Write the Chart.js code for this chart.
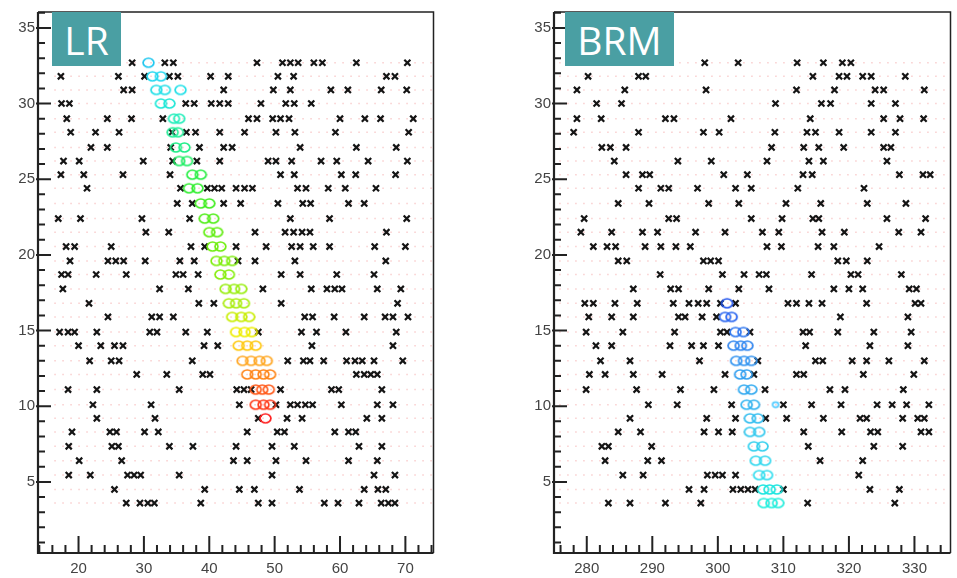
<!DOCTYPE html>
<html>
<head>
<meta charset="utf-8">
<script src="https://cdn.jsdelivr.net/npm/chart.js@4.4.1/dist/chart.umd.min.js"></script>
<style>
  html, body { margin: 0; padding: 0; background: #fff; }
  #wrap { position: relative; width: 957px; height: 578px; overflow: hidden; }
  canvas { position: absolute; top: 0; }
  #lr { left: 0; }
  #brm { left: 478px; }
  .tag {
    position: absolute; top: 12px; height: 54px;
    background: #4a9fa3; color: #fff;
    font-family: "Open Sans", sans-serif; font-size: 39px;
    display: flex; align-items: center; justify-content: center;
  }
</style>
</head>
<body>
<div id="wrap">
  <canvas id="lr" width="440" height="578"></canvas>
  <canvas id="brm" width="479" height="578"></canvas>
  <div class="tag" style="left:52px;width:69px">LR</div>
  <div class="tag" style="left:565px;width:109px">BRM</div>
</div>
<script>
// wire rows (y), bottom to top
var rowY = [3.6, 4.5, 5.45, 6.4, 7.35, 8.3, 9.2, 10.1, 11.1, 12.1, 13.0, 14.0, 14.9, 15.9, 16.8, 17.75,
  18.7, 19.6, 20.55, 21.5, 22.4, 23.4, 24.4, 25.3, 26.2, 27.1, 28.1, 29.0, 30.0, 30.9, 31.8, 32.7]

// LR panel: crosses per row
var lrCrossX = [
  [27.3, 29.4, 30.6, 31.6, 38.7, 47.5, 49.6, 57.6, 59.7, 62.9, 66.3, 67.4, 68.4],
  [25.5, 39.3, 44.6, 46.9, 53.8, 63.7, 65.8, 67.0],
  [18.5, 21.8, 27.5, 28.5, 29.5, 35.4, 49.6, 65.2, 68.4],
  [20.1, 26.6, 43.7, 45.8, 50.2, 54.8, 61.3, 65.7],
  [18.5, 25.1, 26.1, 33.9, 37.5, 44.1, 49.6, 53.0, 62.9, 66.4],
  [19.0, 24.8, 25.8, 30.1, 32.2, 45.8, 50.4, 51.5, 59.2, 61.3, 62.4],
  [22.8, 31.7, 47.5, 51.9, 54.2, 64.1, 66.4],
  [22.2, 31.1, 44.6, 50.2, 52.4, 53.5, 54.7, 55.8, 60.2, 65.7, 68.1],
  [18.4, 22.8, 35.4, 44.2, 45.3, 46.4, 50.9, 58.7, 59.8, 66.4],
  [28.9, 33.5, 39.0, 40.1, 62.5, 63.7, 64.7, 65.7],
  [21.7, 25.0, 26.2, 37.4, 52.0, 54.4, 55.4, 57.5, 61.0, 62.3, 63.4, 65.2, 69.6],
  [20.0, 23.4, 25.5, 26.8, 39.2, 41.3, 55.7, 68.1],
  [17.1, 18.4, 19.4, 22.8, 30.9, 32.0, 36.4, 39.7, 47.5, 54.1, 56.4, 60.9, 68.6],
  [24.5, 31.2, 32.4, 34.5, 54.6, 55.8, 59.1, 63.7, 66.9, 68.1, 70.4],
  [21.6, 38.4, 40.7, 51.0, 68.8],
  [17.6, 32.4, 36.8, 48.2, 55.6, 58.0, 59.2, 60.3, 65.7, 69.3],
  [17.4, 18.4, 22.7, 27.3, 34.9, 36.0, 38.3, 51.0, 53.9, 59.5, 65.2],
  [18.7, 24.5, 25.7, 26.9, 30.2, 35.5, 37.7, 44.4, 47.0, 53.1, 67.0],
  [18.1, 19.4, 25.0, 37.2, 39.3, 44.1, 48.7, 52.6, 53.9, 55.9, 58.4, 65.3, 70.0],
  [30.3, 33.8, 47.0, 51.6, 52.9, 54.2, 55.4, 67.1],
  [16.9, 20.3, 29.7, 37.0, 52.4, 58.4, 70.2],
  [35.1, 37.4, 42.2, 44.8, 50.5, 54.3, 55.5, 61.3, 63.7],
  [21.3, 35.6, 39.7, 40.8, 41.9, 44.1, 45.4, 46.6, 53.5, 54.8, 58.2, 60.8, 65.5],
  [17.3, 20.8, 26.8, 34.0, 50.9, 53.0, 60.2, 62.4, 68.5],
  [17.7, 20.1, 29.9, 34.4, 38.1, 41.6, 49.0, 50.2, 52.6, 57.1, 59.5, 64.3, 70.3],
  [21.9, 24.4, 34.1, 38.5, 42.2, 43.5, 53.9, 62.5, 68.6],
  [18.8, 22.6, 26.2, 34.3, 36.5, 37.9, 41.6, 45.4, 50.2, 53.1, 59.3, 70.5],
  [18.2, 24.4, 28.1, 32.9, 46.0, 47.3, 49.7, 50.9, 52.2, 60.0, 63.8, 66.2, 71.2],
  [17.4, 18.6, 36.4, 37.7, 40.3, 41.6, 42.9, 47.9, 51.7, 53.0, 55.6],
  [26.9, 28.2, 42.2, 49.8, 52.4, 58.6, 61.2, 66.3, 70.2],
  [17.3, 26.1, 30.1, 33.9, 35.2, 40.2, 42.9, 50.5, 52.9, 67.1, 68.4],
  [28.2, 33.2, 34.5, 47.3, 51.2, 52.4, 53.6, 56.0, 57.3, 62.5, 70.3]
]

// LR panel: track hits per row
var lrHitX = [
  [], [], [], [], [], [],
  [48.6],
  [47.1, 48.3, 49.3],
  [47.1, 48.1, 49.1],
  [45.8, 47.1, 48.3, 49.3],
  [45.1, 46.4, 47.7, 48.8],
  [44.5, 45.8, 47.1],
  [44.1, 45.4, 46.5],
  [43.5, 44.9, 46.1],
  [43.0, 44.1, 45.3],
  [42.5, 43.8, 44.9],
  [41.7, 43.0],
  [41.1, 42.3, 43.5],
  [40.5, 41.7],
  [40.0, 41.2],
  [39.3, 40.6],
  [38.7, 40.0],
  [36.9, 38.2],
  [37.4, 38.7],
  [35.4, 36.6],
  [34.9, 36.2],
  [34.4, 35.2],
  [34.6, 35.4],
  [32.6, 33.9],
  [31.9, 33.2, 35.6],
  [31.3, 32.6],
  [30.7]
]
var lrHitColor = ['', '', '', '', '', '', '#ff2222', '#ff3a1a', '#ff5a1a', '#ff8418', '#ffa824', '#ffc810',
  '#eeee00', '#c8ee00', '#aaee10', '#99ee10', '#88ee10', '#80ee10', '#70ee10', '#60ee10', '#50ee18',
  '#40ee22', '#30ee30', '#28ee44', '#22ee66', '#22ee88', '#22ee99', '#22eebb', '#22e8d8', '#22e0e8',
  '#22d8f0', '#22c8f0']

// BRM panel: crosses per row
var brmCrossX = [
  [283.3, 286.6, 292.0, 297.4, 313.7, 327.0],
  [295.6, 297.9, 302.3, 303.5, 304.6, 305.7, 310.0, 323.2, 327.7],
  [285.5, 288.6, 298.4, 299.6, 300.7, 302.7, 321.5],
  [282.8, 289.3, 291.4, 315.6, 322.1],
  [282.3, 283.3, 289.9, 313.8, 323.8, 328.2],
  [284.8, 288.2, 297.9, 300.1, 302.2, 313.1, 318.9, 323.3, 324.4, 331.0, 332.2],
  [286.6, 298.3, 302.7, 307.3, 310.5, 316.1, 321.7, 322.7, 328.2, 330.5, 331.5],
  [289.4, 293.8, 302.1, 310.0, 314.3, 318.8, 324.3, 326.6, 328.8, 332.2],
  [279.9, 287.6, 294.3, 299.4, 307.2, 317.1, 319.4, 328.3],
  [280.4, 282.8, 287.1, 291.5, 301.1, 305.5, 312.0, 313.1, 322.2, 329.9],
  [282.1, 286.6, 297.2, 306.1, 314.9, 316.0, 320.5, 322.7, 326.1, 331.5],
  [281.4, 283.8, 292.7, 296.0, 297.8, 300.1, 313.4, 323.2, 329.0],
  [279.9, 285.5, 293.4, 300.4, 301.4, 304.9, 313.0, 314.0, 318.3, 323.8, 329.5],
  [280.3, 283.8, 287.1, 294.0, 295.0, 297.6, 299.8, 318.7, 329.0],
  [279.7, 281.0, 284.3, 287.7, 293.2, 295.6, 297.0, 298.3, 300.4, 302.7, 310.7, 312.0, 313.9, 315.9, 322.7, 330.1, 331.0],
  [287.1, 292.8, 294.0, 298.6, 303.2, 307.8, 317.7, 320.0, 322.1, 329.2, 330.3],
  [291.2, 300.7, 304.0, 306.3, 307.4, 314.3, 320.3, 321.4, 328.0],
  [284.8, 286.1, 297.8, 298.9, 300.1, 318.3, 319.6, 322.8],
  [281.0, 283.1, 284.4, 288.9, 291.3, 293.6, 295.8, 307.5, 309.7, 315.3, 317.7, 324.6],
  [279.1, 283.8, 288.5, 290.8, 296.6, 301.1, 306.8, 309.3, 315.9, 319.3, 327.6, 331.0],
  [279.6, 292.5, 293.7, 305.1, 309.8, 314.5, 315.4, 325.8, 331.7],
  [284.8, 289.5, 298.6, 303.2, 310.4, 315.7, 322.8, 328.7],
  [287.9, 291.3, 292.5, 296.9, 302.7, 305.1, 312.2, 322.3],
  [286.0, 288.5, 289.6, 300.9, 304.5, 313.0, 314.4, 327.7, 331.3, 332.4],
  [284.2, 293.9, 299.0, 307.5, 313.9, 316.1, 325.8],
  [282.3, 283.6, 286.0, 308.2, 313.1, 315.4, 319.2, 325.3, 326.4],
  [278.0, 287.9, 297.8, 300.2, 308.7, 313.6, 314.9, 318.5, 323.4, 327.1],
  [278.5, 282.2, 292.0, 293.3, 302.0, 314.1, 325.3, 327.8, 331.4],
  [281.5, 285.3, 308.8, 315.8, 317.2, 323.4, 327.1],
  [278.5, 285.8, 298.2, 312.0, 317.8, 324.0, 325.3, 331.5],
  [280.2, 287.9, 289.0, 314.5, 318.5, 319.7, 322.1, 323.4, 328.6],
  [298.0, 303.1, 312.1, 316.1, 319.0, 320.3]
]

// BRM panel: track hits per row
var brmHitX = [
  [307.0, 308.2, 309.2],
  [306.9, 307.9, 309.0],
  [306.3, 307.5],
  [305.8, 307.2],
  [305.5, 306.8],
  [304.9, 306.3],
  [304.9, 306.1],
  [304.4, 305.5],
  [304.0, 305.1],
  [303.4, 304.4],
  [302.8, 304.0, 305.1],
  [302.4, 303.5, 304.5],
  [302.7, 303.9],
  [301.1, 302.1],
  [301.4]
]
var brmHitColor = ['#22eedd', '#22e6e0', '#33ddee', '#33d8ee', '#33d0ee', '#33c8ee', '#33bef0', '#33b4f0',
  '#33aaf0', '#33a0f0', '#3394f0', '#3388f0', '#2f77f0', '#2a66f0', '#2255ee']
var brmWeakHit = [308.8, 10.1]

// axis ranges
var lrRange = [13.8, 74.3]
var brmRange = [275.0, 335.5]
var yRange = [0.3, 36.05]
var lrWireSpan = [16.3, 74.3]
var brmWireSpan = [275.8, 335.5]

function rowPoints(rows) {
  var pts = []
  rows.forEach(function (xs, i) { xs.forEach(function (x) { pts.push({ x: x, y: rowY[i] }) }) })
  return pts
}

// hollow ellipse marker, one image per colour
var ellipseCache = {}
function ellipseMark(color, rx, ry) {
  var key = color + rx + ry
  if (ellipseCache[key]) return ellipseCache[key]
  var c = document.createElement('canvas')
  c.width = Math.ceil(rx * 2 + 4); c.height = Math.ceil(ry * 2 + 4)
  var g = c.getContext('2d')
  g.strokeStyle = color
  g.lineWidth = 1.7
  g.beginPath()
  g.ellipse(c.width / 2, c.height / 2, rx, ry, 0, 0, Math.PI * 2)
  g.stroke()
  ellipseCache[key] = c
  return c
}
function rowMarks(rows, colors, rx, ry) {
  var m = []
  rows.forEach(function (xs, i) { xs.forEach(function () { m.push(ellipseMark(colors[i], rx, ry)) }) })
  return m
}

function wireSets(span) {
  return rowY.map(function (y) {
    return {
      data: [{ x: span[0], y: y }, { x: span[1], y: y }],
      showLine: true, pointRadius: 0, order: 3,
      borderColor: 'rgba(240,130,130,0.42)', borderWidth: 1.4, borderDash: [1.4, 6.6]
    }
  })
}

// ROOT style frame with inner tick marks
var rootFrame = {
  id: 'rootFrame',
  afterDraw: function (chart) {
    var ctx = chart.ctx, a = chart.chartArea, sx = chart.scales.x, sy = chart.scales.y
    ctx.save()
    ctx.strokeStyle = '#222'
    ctx.lineWidth = 1.5
    ctx.beginPath()
    ctx.moveTo(a.left, a.top); ctx.lineTo(a.right, a.top); ctx.lineTo(a.right, a.bottom)
    ctx.stroke()
    ctx.lineWidth = 2.2
    ctx.beginPath()
    ctx.moveTo(a.left, a.top); ctx.lineTo(a.left, a.bottom); ctx.lineTo(a.right, a.bottom)
    ctx.stroke()
    ctx.lineWidth = 2
    ctx.beginPath()
    for (var v = Math.ceil(sy.min); v <= sy.max; v++) {
      var py = sy.getPixelForValue(v)
      ctx.moveTo(a.left - (v % 5 === 0 ? 2 : 0), py)
      ctx.lineTo(a.left + (v % 5 === 0 ? 13 : 7), py)
    }
    for (var u = Math.ceil(sx.min / 2) * 2; u <= sx.max; u += 2) {
      var px = sx.getPixelForValue(u)
      ctx.moveTo(px, a.bottom)
      ctx.lineTo(px, a.bottom - (u % 10 === 0 ? 17 : 8))
    }
    ctx.stroke()
    ctx.restore()
  }
}

function makePanel(id, cfg) {
  var tickFont = { family: 'Liberation Sans', size: 15 }
  new Chart(document.getElementById(id), {
    type: 'scatter',
    data: { datasets: cfg.datasets },
    options: {
      responsive: false, animation: false, events: [],
      layout: { padding: { top: 6, right: cfg.padRight, left: 0, bottom: 0 } },
      plugins: { legend: { display: false }, tooltip: { enabled: false } },
      scales: {
        x: {
          type: 'linear', min: cfg.range[0], max: cfg.range[1],
          grid: { display: false, drawTicks: false }, border: { display: false },
          afterFit: function (s) { s.height = 25 },
          ticks: { stepSize: 10, includeBounds: false, padding: 7, color: '#444', font: tickFont, maxRotation: 0, autoSkip: false }
        },
        y: {
          min: yRange[0], max: yRange[1],
          grid: { display: false, drawTicks: false }, border: { display: false },
          afterFit: function (s) { s.width = cfg.yWidth },
          ticks: { stepSize: 5, includeBounds: false, padding: 3, color: '#444', font: tickFont, autoSkip: false }
        }
      }
    },
    plugins: [rootFrame]
  })
}

var crossStyle = { pointStyle: 'crossRot', pointRadius: 4.3, borderColor: '#151515', borderWidth: 2.2, order: 1 }

makePanel('lr', {
  range: lrRange, yWidth: 38, padRight: 5,
  datasets: [
    { data: rowPoints(lrHitX), pointStyle: rowMarks(lrHitX, lrHitColor, 5.4, 4.5), order: 0 },
    Object.assign({ data: rowPoints(lrCrossX) }, crossStyle)
  ].concat(wireSets(lrWireSpan))
})

makePanel('brm', {
  range: brmRange, yWidth: 76, padRight: 6,
  datasets: [
    { data: rowPoints(brmHitX), pointStyle: rowMarks(brmHitX, brmHitColor, 5.5, 4.5), order: 0 },
    { data: [{ x: brmWeakHit[0], y: brmWeakHit[1] }], pointStyle: ellipseMark('#55ccff', 3, 2.6), order: 0 },
    Object.assign({ data: rowPoints(brmCrossX) }, crossStyle)
  ].concat(wireSets(brmWireSpan))
})
</script>
</body>
</html>
